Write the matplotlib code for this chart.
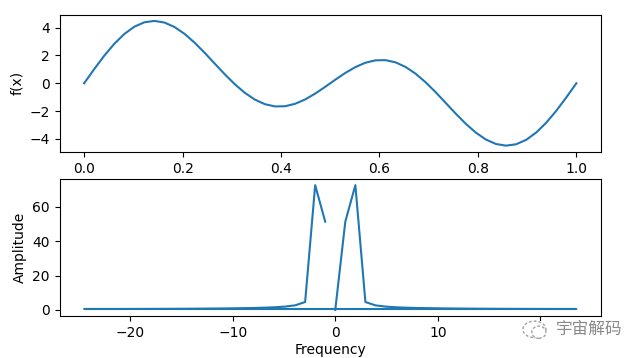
import matplotlib
matplotlib.use("Agg")
import matplotlib.pyplot as plt
from matplotlib.ticker import MultipleLocator
from matplotlib.patches import Rectangle, Ellipse

# Signal samples (x in [0, 1], 50 points)
x_vals = [0.0000, 0.0204, 0.0408, 0.0612, 0.0816, 0.1020, 0.1224, 0.1429, 0.1633, 0.1837,
          0.2041, 0.2245, 0.2449, 0.2653, 0.2857, 0.3061, 0.3265, 0.3469, 0.3673, 0.3878,
          0.4082, 0.4286, 0.4490, 0.4694, 0.4898, 0.5102, 0.5306, 0.5510, 0.5714, 0.5918,
          0.6122, 0.6327, 0.6531, 0.6735, 0.6939, 0.7143, 0.7347, 0.7551, 0.7755, 0.7959,
          0.8163, 0.8367, 0.8571, 0.8776, 0.8980, 0.9184, 0.9388, 0.9592, 0.9796, 1.0000]
f_vals = [0.0000, 1.0167, 1.9795, 2.8376, 3.5469, 4.0722, 4.3898, 4.4885, 4.3701, 4.0497,
          3.5539, 2.9197, 2.1912, 1.4173, 0.6482, -0.0677, -0.6873, -1.1751, -1.5056, -1.6651,
          -1.6522, -1.4777, -1.1641, -0.7435, -0.2555, 0.2555, 0.7435, 1.1641, 1.4777, 1.6522,
          1.6651, 1.5056, 1.1751, 0.6873, 0.0677, -0.6482, -1.4173, -2.1912, -2.9197, -3.5539,
          -4.0497, -4.3701, -4.4885, -4.3898, -4.0722, -3.5469, -2.8376, -1.9795, -1.0167, 0.0000]

# Spectrum (FFT order: 0 .. positive, then negative)
freq_vals = [0.00, 0.98, 1.96, 2.94, 3.92, 4.90, 5.88, 6.86, 7.84, 8.82,
             9.80, 10.78, 11.76, 12.74, 13.72, 14.70, 15.68, 16.66, 17.64, 18.62,
             19.60, 20.58, 21.56, 22.54, 23.52,
             -24.50, -23.52, -22.54, -21.56, -20.58, -19.60, -18.62, -17.64, -16.66, -15.68,
             -14.70, -13.72, -12.74, -11.76, -10.78, -9.80, -8.82, -7.84, -6.86, -5.88,
             -4.90, -3.92, -2.94, -1.96, -0.98]
amp_vals = [0.000, 51.39, 72.64, 4.573, 2.631, 1.918, 1.534, 1.290, 1.120, 0.995,
            0.900, 0.825, 0.764, 0.715, 0.675, 0.641, 0.614, 0.590, 0.571, 0.555,
            0.543, 0.532, 0.525, 0.519, 0.516,
            0.515, 0.516, 0.519, 0.525, 0.532, 0.543, 0.555, 0.571, 0.590, 0.614,
            0.641, 0.675, 0.715, 0.764, 0.825, 0.900, 0.995, 1.120, 1.290, 1.534,
            1.918, 2.631, 4.573, 72.64, 51.39]

fig, (ax1, ax2) = plt.subplots(2, 1, figsize=(6.4, 3.58), dpi=100)
fig.subplots_adjust(left=0.093, right=0.939, top=0.959, bottom=0.117, hspace=0.197)

ax1.plot(x_vals, f_vals, color="#1f77b4")
ax1.set_ylabel("f(x)")
ax1.yaxis.set_major_locator(MultipleLocator(2))

ax2.plot(freq_vals, amp_vals, color="#1f77b4")
ax2.set_xlabel("Frequency", labelpad=2)
ax2.set_ylabel("Amplitude")

# Watermark (covers part of the axis labels, as in the reference)
fig.patches.append(Rectangle((0.808, 0.040), 0.056, 0.064, transform=fig.transFigure,
                             facecolor="white", edgecolor="none", zorder=10))
fig.patches.append(Ellipse((0.835, 0.080), 0.036, 0.046, transform=fig.transFigure,
                           facecolor="none", edgecolor="#a0a0a0", linestyle=(0, (2, 1.5)),
                           linewidth=1.0, zorder=11))
fig.patches.append(Ellipse((0.842, 0.072), 0.022, 0.034, transform=fig.transFigure,
                           facecolor="white", edgecolor="#a0a0a0", linestyle=(0, (2, 1.5)),
                           linewidth=1.0, zorder=12))
fig.text(0.868, 0.080, "宇宙解码", fontsize=12, color="#8a8a8a", ha="left", va="center",
         family=["Noto Sans CJK SC", "DejaVu Sans"], zorder=12)

fig.savefig("out.png", dpi=100)
